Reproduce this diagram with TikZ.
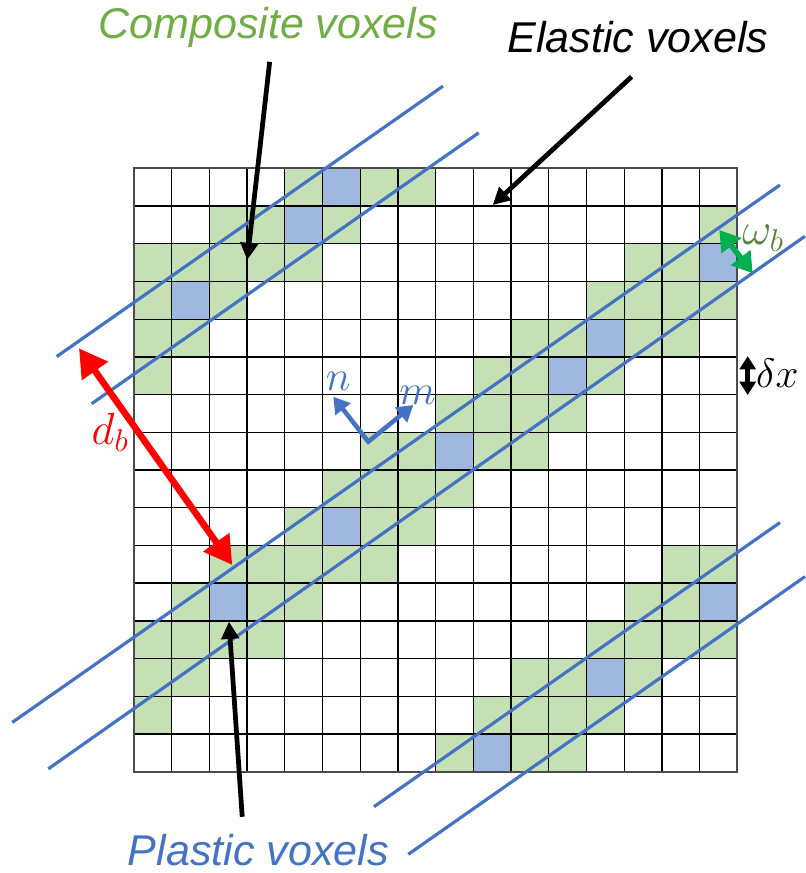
\RequirePackage{fix-cm}
\documentclass[tikz,border=0pt]{standalone}
\usepackage{fontspec}
\usepackage{xcolor}
\usepackage{amsmath}
\usetikzlibrary{arrows.meta}
\newfontfamily\labelfont{Liberation Sans}
\definecolor{compgreen}{HTML}{C5E0B4}
\definecolor{plastblue}{HTML}{9FB8E0}
\definecolor{bandblue}{HTML}{4472C4}
\definecolor{txtgreen}{HTML}{70AD47}
\definecolor{wgreen}{HTML}{00B050}
\definecolor{wtext}{HTML}{548235}

\begin{document}
\begin{tikzpicture}[x=1cm,y=1cm,
    voxlabel/.style={font=\labelfont\itshape\fontsize{32.5}{36}\selectfont, inner sep=0pt, anchor=base},
    mathlbl/.style={font=\fontsize{30}{34}\selectfont, inner sep=0pt},
    pointer/.style={line width=3.6pt, -{Triangle[length=13pt,width=13pt]}},
    band/.style={bandblue, line width=2.4pt}]
    \useasboundingbox (-3.553,-2.686) rectangle (17.794,20.464);
    % Composite voxels
    \foreach \r/\cols in {0/{4,6,7}, 1/{2,3,5,15}, 2/{0,1,2,3,4,13,14},
        3/{0,2,12,13,14,15}, 4/{0,1,10,11,13,14}, 5/{0,9,10,12},
        6/{8,9,10,11}, 7/{6,7,9,10}, 8/{5,6,7,8}, 9/{4,6,7},
        10/{2,3,4,5,6,14,15}, 11/{1,3,4,13,14}, 12/{0,1,2,3,12,13,14,15},
        13/{0,1,10,11,13}, 14/{0,9,10,11,12}, 15/{8,10,11}} {
        \foreach \c in \cols
            \fill[compgreen] (\c,{15-\r}) rectangle ++(1,1);
    }
    % Plastic voxels
    \foreach \c/\r in {5/0,4/1,15/2,1/3,12/4,11/5,8/7,5/9,2/11,15/11,12/13,9/15}
        \fill[plastblue] (\c,{15-\r}) rectangle ++(1,1);
    % Voxel grid
    \draw[black, line width=1pt] (0,0) grid (16,16);
    \draw[black!70, line width=1.4pt] (0,0) rectangle (16,16);
    % Band boundaries
    \draw[band] (-2.050,11.008) -- (8.194,18.179);
    \draw[band] (-1.122,9.758) -- (9.141,16.942);
    \draw[band] (-3.227,1.308) -- (17.131,15.559);
    \draw[band] (-2.273,0.074) -- (17.794,14.2);
    \draw[band] (6.364,-0.928) -- (17.131,6.608);
    \draw[band] (7.274,-2.190) -- (17.794,5.174);
    % Labels
    \node[voxlabel, txtgreen] (comp) at (3.558,19.448) {Composite voxels};
    \node[voxlabel] (elas) at (13.365,19.067) {Elastic voxels};
    \node[voxlabel, bandblue] (plas) at (3.30,-2.50) {Plastic voxels};
    \coordinate (compTip) at (3.004,13.568);
    \coordinate (elasTip) at (9.512,15.027);
    \coordinate (plasTip) at (2.519,3.978);
    \draw[pointer] (comp.south) ++(0.04,-0.38) -- (compTip);
    \draw[pointer] (elas.south) ++(-0.17,-0.62) -- (elasTip);
    \draw[pointer] (plas.north) ++(-0.43,0.47) -- (plasTip);
    % Band spacing
    \coordinate (dbTop) at (-1.459,11.228);
    \coordinate (dbBot) at (2.607,5.482);
    \draw[red, line width=5pt, {Triangle[length=21pt,width=23pt]}-{Triangle[length=21pt,width=23pt]}] (dbTop) -- (dbBot);
    \node[mathlbl, red, font=\fontsize{34}{38}\selectfont] (db) at (-0.636,9.0) {$d_b$};
    % Band width
    \coordinate (wTop) at (15.521,14.365);
    \coordinate (wBot) at (16.407,13.217);
    \draw[wgreen, line width=4.2pt, {Triangle[length=15pt,width=18pt]}-{Triangle[length=15pt,width=18pt]}] (wTop) -- (wBot);
    \node[mathlbl, wtext, font=\fontsize{34}{38}\selectfont] (wb) at (16.68,14.145) {$\omega_b$};
    % Voxel size
    \coordinate (dxTop) at (16.274,11.02);
    \coordinate (dxBot) at (16.274,9.99);
    \draw[line width=3.4pt, {Triangle[length=10pt,width=12pt]}-{Triangle[length=10pt,width=12pt]}] (dxTop) -- (dxBot);
    \node[mathlbl, font=\fontsize{31}{35}\selectfont] (dx) at (17.06,10.56) {$\delta x$};
    % Local frame
    \coordinate (o) at (6.213,8.751);
    \coordinate (nTip) at (5.285,9.944);
    \coordinate (mTip) at (7.407,9.724);
    \draw[bandblue, line width=3.4pt, miter limit=4, {Triangle[length=12pt,width=14pt]}-{Triangle[length=12pt,width=14pt]}] (nTip) -- (o) -- (mTip);
    \node[mathlbl, bandblue, font=\fontsize{32}{36}\selectfont] (n) at (5.418,10.35) {$n$};
    \node[mathlbl, bandblue, font=\fontsize{32}{36}\selectfont] (m) at (7.52,9.97) {$m$};
\end{tikzpicture}
\end{document}
